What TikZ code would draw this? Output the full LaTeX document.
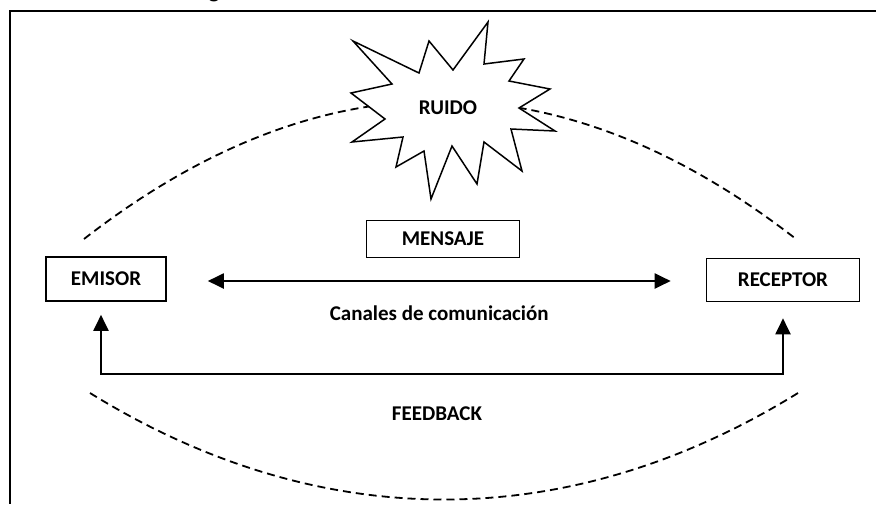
\documentclass[tikz,border=0pt]{standalone}
\usepackage{fontspec}
\setmainfont{Carlito}
\newfontfamily\arialfont{Liberation Sans}
\usetikzlibrary{arrows.meta}
\begin{document}
\begin{tikzpicture}[x=1pt,y=-1pt,
        texto/.style={font=\bfseries\fontsize{21}{25}\selectfont},
        caja/.style={texto,draw,line width=1.6pt,inner sep=0pt},
        flecha/.style={line width=2pt,{Triangle[length=16pt,width=15pt]}-{Triangle[length=16pt,width=15pt]}},
        linea/.style={line width=1.8pt,dash pattern=on 8pt off 5pt}]
        \useasboundingbox (0,0) rectangle (876,504);
        \draw[line width=2pt] (876,11) -- (10,11) -- (10,504);
        \node[anchor=base,inner sep=0pt,font=\arialfont\fontsize{26}{30}\selectfont] (titulo) at (214,-3.5) {g};
        \draw[linea] (84,239) .. controls (321,55) and (559,55) .. (796,239);
        \draw[linea] (90,393) .. controls (320,535) and (568,535) .. (798,393);
        \draw[line width=1.5pt,fill=white] (353,41) -- (419,73) -- (429,41) -- (453,70) -- (488,22) -- (484,64)
            -- (524,59) -- (509,81) -- (550,89) -- (519,108) -- (555,131) -- (511,129) -- (522,171)
            -- (484,142) -- (477,184) -- (452,146) -- (431,199) -- (424,151) -- (396,167) -- (403,137)
            -- (352,142) -- (385,119) -- (351,93) -- (392,84) -- cycle;
        \node[texto] (ruido) at (448,108) {RUIDO};
        \node[caja,minimum width=120pt,minimum height=44pt] (emisor) at (106,279) {EMISOR};
        \node[caja,minimum width=153pt,minimum height=43pt] (receptor) at (783,280) {RECEPTOR};
        \node[caja,minimum width=153pt,minimum height=37pt] (mensaje) at (443,239) {MENSAJE};
        \draw[flecha] ([xshift=41pt,yshift=-2pt]emisor.east) -- ([xshift=-35pt,yshift=-1pt]receptor.west)
            node[texto,midway,below=20pt] (canales) {Canales de comunicación};
        \coordinate (fbi) at (101,374);
        \coordinate (fbd) at (783,374);
        \draw[flecha] ([xshift=-5pt,yshift=-13pt]emisor.south) -- (fbi) -- (fbd) -- ([yshift=-16pt]receptor.south);
        \node[texto] (feedback) at (437,414) {FEEDBACK};
    \end{tikzpicture}
\end{document}
